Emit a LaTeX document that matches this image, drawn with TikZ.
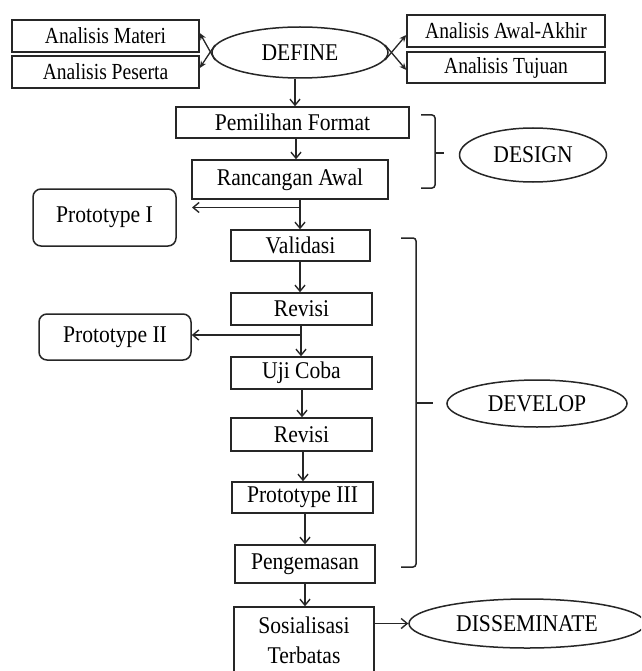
\documentclass[tikz,border=0pt]{standalone}
\usepackage{fontspec}
\setmainfont{Liberation Serif}[FakeStretch=0.9]
\newfontfamily\narrowfont{Liberation Serif}[FakeStretch=0.85]
\usetikzlibrary{shapes.geometric,arrows.meta}
\definecolor{ink}{HTML}{262626}
\begin{document}
\begin{tikzpicture}[x=1pt,y=-1pt,
  box/.style={draw=ink, line width=1.5pt, inner sep=0pt, text=black, font=\fontsize{24}{30}\selectfont},
  abox/.style={box, font=\narrowfont\fontsize{23}{26}\selectfont},
  rbox/.style={box, rounded corners=8pt},
  oval/.style={draw=ink, line width=1.5pt, ellipse, inner sep=0pt, text=black, font=\fontsize{24}{30}\selectfont},
  flow/.style={draw=ink, line width=1.4pt, -{Straight Barb[length=6pt,width=10pt,line width=1.4pt]}},
  side/.style={draw=ink, line width=1.3pt, -{Stealth[length=7pt,width=6pt]}},
  brace/.style={draw=ink, line width=1.5pt, rounded corners=3pt},
  tick/.style={draw=ink, line width=1.5pt}]
\useasboundingbox (0,0) rectangle (641,671);
\clip (0,0) rectangle (641,671);
\fill[white] (0,0) rectangle (641,671);

% DEFINE
\node[abox, minimum width=187pt, minimum height=32pt] (materi) at (105.5,36) {Analisis Materi};
\node[abox, minimum width=187pt, minimum height=32pt] (peserta) at (105.5,72) {Analisis Peserta};
\node[oval, minimum width=176pt, minimum height=51pt] (define) at (300,52.5) {DEFINE};
\node[abox, minimum width=198pt, minimum height=32pt] (awal) at (506,31) {Analisis Awal-Akhir};
\node[abox, minimum width=198pt, minimum height=31pt] (tujuan) at (506,67.5) {Analisis Tujuan};

% DESIGN
\node[box, minimum width=233pt, minimum height=31pt] (pemilihan) at (292.5,122.5) {Pemilihan Format};
\node[box, minimum width=196pt, minimum height=39pt] (rancangan) at (290,179.5) {Rancangan Awal};
\node[oval, minimum width=147pt, minimum height=54pt] (design) at (533,155) {DESIGN};
\node[rbox, minimum width=143pt, minimum height=57pt] (proto1) at (104.5,217.5) {Prototype I};

% DEVELOP
\node[box, minimum width=139pt, minimum height=31pt] (validasi) at (300.5,245.5) {Validasi};
\node[box, minimum width=141pt, minimum height=32pt] (revisi1) at (301.5,309) {Revisi};
\node[rbox, minimum width=152pt, minimum height=46pt] (proto2) at (115,337) {Prototype II};
\node[box, minimum width=141pt, minimum height=32pt] (uji) at (301.5,373) {Uji Coba};
\node[box, minimum width=141pt, minimum height=33pt] (revisi2) at (301.5,434.5) {Revisi};
\node[box, minimum width=141pt, minimum height=31pt] (proto3) at (302.5,497.5) {Prototype III};
\node[box, minimum width=140pt, minimum height=38pt] (pengemasan) at (305,564) {Pengemasan};
\node[oval, minimum width=180pt, minimum height=47pt] (develop) at (537,403.5) {DEVELOP};

% DISSEMINATE
\node[box, minimum width=140pt, minimum height=66pt, align=center] (sosial) at (304,640) {Sosialisasi\\Terbatas};
\node[oval, minimum width=236pt, minimum height=49pt] (dissem) at (527,623.5) {DISSEMINATE};

% side arrows of DEFINE
\draw[side] (define.185) -- ([yshift=3pt]materi.east);
\draw[side] (define.175) -- ([yshift=4pt]peserta.east);
\draw[side] (define.355) -- ([yshift=-4pt]awal.west);
\draw[side] (define.5) -- ([yshift=-2.5pt]tujuan.west);

% main flow
\coordinate (c1) at (295,0);
\draw[flow] (define.south -| c1) -- (pemilihan.north -| c1);
\coordinate (c2) at (296,0);
\draw[flow] (pemilihan.south -| c2) -- (rancangan.north -| c2);
\coordinate (c3) at (300,0);
\draw[flow] (rancangan.south -| c3) -- (validasi.north -| c3);
\coordinate (b1) at (300,207.5);
\coordinate (p1) at (192,207.5);
\draw[flow] (b1) -- (p1);
\draw[flow] (validasi.south -| c3) -- (revisi1.north -| c3);
\coordinate (c4) at (301,0);
\draw[flow] (revisi1.south -| c4) -- (uji.north -| c4);
\coordinate (b2) at (300,335);
\draw[flow] (b2) -- (b2 -| proto2.east);
\coordinate (c5) at (302,0);
\draw[flow] (uji.south -| c5) -- (revisi2.north -| c5);
\coordinate (c6) at (303,0);
\draw[flow] (revisi2.south -| c6) -- (proto3.north -| c6);
\coordinate (c7) at (305,0);
\draw[flow] (proto3.south -| c7) -- (pengemasan.north -| c7);
\draw[flow] (pengemasan.south -| c7) -- (sosial.north -| c7);
\draw[flow] (sosial.east |- dissem.west) -- (dissem.west);

% braces
\coordinate (dbt) at (421,115);
\coordinate (dbb) at (421,188);
\draw[brace] (dbt) -- (435,115) -- (435,188) -- (dbb);
\coordinate (dbm) at (435,153);
\coordinate (dbe) at (444,153);
\draw[tick] (dbm) -- (dbe);

\coordinate (vbt) at (401,238);
\coordinate (vbb) at (401,567);
\draw[brace] (vbt) -- (416,238) -- (416,567) -- (vbb);
\coordinate (vbm) at (416,403);
\coordinate (vbe) at (433,403);
\draw[tick] (vbm) -- (vbe);
\end{tikzpicture}
\end{document}
